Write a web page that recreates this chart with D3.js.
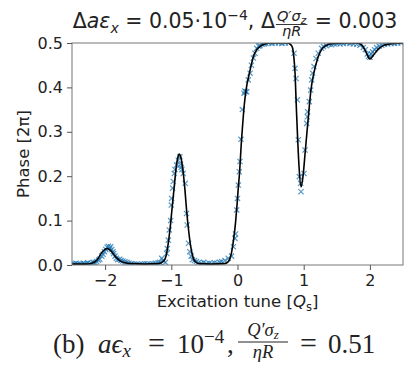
<!DOCTYPE html>
<html>
<head>
<meta charset="utf-8">
<script src="https://cdn.jsdelivr.net/npm/d3@7"></script>
<style>
  body { margin: 0; background: #fff; }
  svg { display: block; }
</style>
</head>
<body>
<svg id="chart" width="404" height="365"></svg>
<script>
// Fitted phase response (black curve)
const fitX = [-2.5, -2.3, -2.2, -2.12, -2.05, -1.97, -1.92, -1.85, -1.78, -1.7, -1.6, -1.4, -1.2, -1.12, -1.08,
  -1.05, -1.02, -0.99, -0.96, -0.93, -0.9, -0.88, -0.86, -0.83, -0.8, -0.77, -0.74, -0.71, -0.68, -0.64, -0.58,
  -0.4, -0.2, -0.16, -0.12, -0.09, -0.06, -0.03, -0.01, 0.01, 0.03, 0.06, 0.08, 0.1, 0.13, 0.18, 0.24, 0.29,
  0.34, 0.4, 0.5, 0.75, 0.8, 0.83, 0.85, 0.87, 0.89, 0.91, 0.93, 0.96, 0.99, 1.02, 1.05, 1.08, 1.11, 1.15, 1.2,
  1.25, 1.32, 1.45, 1.6, 1.8, 1.88, 1.94, 2.0, 2.05, 2.12, 2.2, 2.3, 2.5];
const fitY = [0.002, 0.002, 0.004, 0.012, 0.028, 0.037, 0.033, 0.02, 0.01, 0.005, 0.003, 0.002, 0.003, 0.008, 0.02,
  0.045, 0.08, 0.125, 0.17, 0.215, 0.243, 0.25, 0.245, 0.22, 0.18, 0.125, 0.08, 0.045, 0.022, 0.008, 0.003,
  0.002, 0.003, 0.005, 0.012, 0.028, 0.056, 0.095, 0.13, 0.17, 0.206, 0.28, 0.32, 0.357, 0.395, 0.432, 0.469, 0.485,
  0.492, 0.497, 0.5, 0.5, 0.497, 0.49, 0.47, 0.43, 0.35, 0.28, 0.22, 0.176, 0.2, 0.25, 0.3, 0.35, 0.395, 0.43, 0.46,
  0.48, 0.493, 0.499, 0.5, 0.5, 0.495, 0.48, 0.464, 0.472, 0.485, 0.494, 0.498, 0.5];

// Measured phase (blue crosses)
const measX = [-2.49, -2.46, -2.44, -2.41, -2.38, -2.36, -2.33, -2.31, -2.28, -2.26, -2.23, -2.21, -2.18, -2.15,
  -2.13, -2.1, -2.08, -2.05, -2.03, -2.01, -1.99, -1.97, -1.95, -1.93, -1.915, -1.9, -1.88, -1.87, -1.85, -1.83,
  -1.81, -1.78, -1.76, -1.73, -1.7, -1.67, -1.64, -1.6, -1.56, -1.52, -1.48, -1.44, -1.4, -1.36, -1.32, -1.28,
  -1.24, -1.2, -1.17, -1.145, -1.12, -1.09, -1.07, -1.06, -1.045, -1.03, -1.01, -1.0, -0.995, -0.98, -0.97, -0.955,
  -0.945, -0.92, -0.895, -0.87, -0.86, -0.85, -0.84, -0.82, -0.79, -0.77, -0.76, -0.74, -0.72, -0.7, -0.68, -0.65,
  -0.62, -0.59, -0.55, -0.51, -0.47, -0.43, -0.39, -0.35, -0.31, -0.27, -0.24, -0.19, -0.14, -0.09, -0.063, -0.038,
  -0.03, -0.012, 0.0, 0.012, 0.027, 0.038, 0.053, 0.073, 0.098, 0.11, 0.125, 0.14, 0.163, 0.19, 0.21, 0.24, 0.264,
  0.29, 0.32, 0.34, 0.37, 0.4, 0.43, 0.47, 0.52, 0.57, 0.62, 0.67, 0.72, 0.77, 0.854, 0.869, 0.884, 0.904, 0.918,
  0.934, 0.954, 0.959, 1.005, 1.02, 1.045, 1.055, 1.06, 1.085, 1.105, 1.12, 1.135, 1.155, 1.186, 1.22, 1.27, 1.3,
  1.34, 1.38, 1.42, 1.46, 1.5, 1.55, 1.6, 1.65, 1.7, 1.75, 1.8, 1.85, 1.9, 1.93, 1.96, 1.98, 2.0, 2.02, 2.04, 2.07,
  2.1, 2.14, 2.18, 2.22, 2.27, 2.32, 2.37, 2.42, 2.47];
const measY = [0.003, 0.002, 0.004, 0.002, 0.003, 0.001, 0.004, 0.002, 0.003, 0.005, 0.002, 0.004, 0.006, 0.005,
  0.008, 0.011, 0.013, 0.02, 0.024, 0.03, 0.035, 0.04, 0.042, 0.038, 0.041, 0.035, 0.03, 0.026, 0.02, 0.015,
  0.012, 0.013, 0.01, 0.009, 0.007, 0.006, 0.004, 0.003, 0.002, 0.002, 0.001, 0.002, 0.003, 0.002, 0.002, 0.003,
  0.004, 0.005, 0.006, 0.015, 0.01, 0.006, 0.026, 0.037, 0.056, 0.079, 0.1, 0.135, 0.15, 0.173, 0.188, 0.206,
  0.215, 0.225, 0.236, 0.244, 0.227, 0.22, 0.215, 0.206, 0.184, 0.116, 0.09, 0.049, 0.03, 0.02, 0.012, 0.01,
  0.008, 0.005, 0.004, 0.006, 0.003, 0.004, 0.003, 0.005, 0.004, 0.006, 0.008, 0.01, 0.015, 0.02, 0.041, 0.06,
  0.07, 0.124, 0.15, 0.18, 0.21, 0.233, 0.283, 0.35, 0.387, 0.392, 0.39, 0.39, 0.417, 0.432, 0.45, 0.466, 0.477,
  0.488, 0.493, 0.494, 0.497, 0.498, 0.499, 0.5, 0.499, 0.5, 0.5, 0.499, 0.5, 0.5, 0.477, 0.443, 0.42, 0.372, 0.282,
  0.199, 0.184, 0.165, 0.206, 0.259, 0.319, 0.334, 0.345, 0.368, 0.394, 0.417, 0.432, 0.447, 0.465, 0.477, 0.488, 0.492,
  0.494, 0.497, 0.496, 0.498, 0.499, 0.498, 0.499, 0.5, 0.499, 0.498, 0.497, 0.495, 0.49, 0.485, 0.475, 0.47, 0.468,
  0.475, 0.48, 0.485, 0.49, 0.493, 0.495, 0.497, 0.498, 0.499, 0.499, 0.5, 0.5];

const xTicks = [-2, -1, 0, 1, 2];
const yTicks = [0.0, 0.1, 0.2, 0.3, 0.4, 0.5];
const xDomain = [-2.5, 2.5];
const yDomain = [0, 0.5];

const svg = d3.select("#chart");
const plot = { left: 72, right: 403, top: 43, bottom: 265 };
const sans = "'DejaVu Sans', sans-serif";
const serif = "'Liberation Serif', 'DejaVu Serif', serif";
const ink = "#222";

const x = d3.scaleLinear().domain(xDomain).range([plot.left, plot.right]);
const y = d3.scaleLinear().domain(yDomain).range([plot.bottom, plot.top]);

svg.append("defs").append("clipPath").attr("id", "plotClip")
  .append("rect").attr("x", plot.left).attr("y", plot.top)
  .attr("width", plot.right - plot.left).attr("height", plot.bottom - plot.top);

// crosses
const s = 2.6;
svg.append("g").attr("clip-path", "url(#plotClip)")
  .selectAll("path").data(d3.range(measX.length)).join("path")
  .attr("d", i => {
    const cx = x(measX[i]), cy = y(measY[i]);
    return `M${cx - s},${cy - s}L${cx + s},${cy + s}M${cx - s},${cy + s}L${cx + s},${cy - s}`;
  })
  .attr("stroke", "#1f77b4").attr("stroke-opacity", 0.75).attr("stroke-width", 1.2).attr("fill", "none");

// fitted curve
const line = d3.line().x(i => x(fitX[i])).y(i => y(fitY[i])).curve(d3.curveMonotoneX);
svg.append("path").attr("clip-path", "url(#plotClip)")
  .attr("d", line(d3.range(fitX.length)))
  .attr("fill", "none").attr("stroke", "#000").attr("stroke-width", 1.6);

// frame
svg.append("rect").attr("x", plot.left).attr("y", plot.top)
  .attr("width", plot.right - plot.left).attr("height", plot.bottom - plot.top)
  .attr("fill", "none").attr("stroke", "#777").attr("stroke-width", 1);

// axes
const xAxis = svg.append("g").attr("transform", `translate(0,${plot.bottom})`)
  .call(d3.axisBottom(x).tickValues(xTicks).tickFormat(d3.format("d")).tickSize(5).tickPadding(5));
const yAxis = svg.append("g").attr("transform", `translate(${plot.left},0)`)
  .call(d3.axisLeft(y).tickValues(yTicks).tickFormat(d3.format(".1f")).tickSize(5).tickPadding(4));
[xAxis, yAxis].forEach(a => {
  a.select(".domain").remove();
  a.selectAll(".tick line").attr("stroke", "#555");
  a.selectAll(".tick text").attr("font-family", sans).attr("font-size", 16).attr("fill", ink);
});

// y axis title
svg.append("text").attr("transform", `translate(29,${(plot.top + plot.bottom) / 2}) rotate(-90)`)
  .attr("text-anchor", "middle").attr("font-family", sans).attr("font-size", 16.5).attr("fill", ink)
  .text("Phase [2π]");

// inline math-like text: pieces laid out left to right (p.x pins a piece, p.mid centres it there)
function layout(g, pieces, family) {
  let cx = 0;
  pieces.forEach(p => {
    if (p.x !== undefined) cx = p.x;
    if (p.frac) {
      const fg = g.append("g");
      const ng = fg.append("g"), dg = fg.append("g");
      const nw = layout(ng, p.frac[0], family);
      const dw = layout(dg, p.frac[1], family);
      const w = p.w || Math.max(nw, dw) + 2;
      ng.attr("transform", `translate(${cx + (w - nw) / 2},${p.numY})`);
      dg.attr("transform", `translate(${cx + (w - dw) / 2},${p.denY})`);
      fg.append("line").attr("x1", cx).attr("x2", cx + w).attr("y1", p.barY).attr("y2", p.barY)
        .attr("stroke", ink).attr("stroke-width", p.barW || 0.9);
      cx += w + (p.gap || 0);
      return;
    }
    const t = g.append("text").attr("x", cx).attr("y", p.dy || 0)
      .attr("font-family", family).attr("font-size", p.size)
      .attr("font-style", p.it ? "italic" : "normal").attr("fill", ink)
      .style("white-space", "pre").text(p.t);
    const w = t.node().getComputedTextLength();
    if (p.mid !== undefined) { t.attr("x", p.mid - w / 2); cx = p.mid + w / 2; }
    else cx += w + (p.gap || 0);
  });
  return cx;
}

// x axis title
const xl = svg.append("g");
const xlw = layout(xl, [
  { t: "Excitation tune [", size: 16.5 },
  { t: "Q", size: 16.5, it: true },
  { t: "s", size: 11.5, dy: 3.5 },
  { t: "]", size: 16.5 }
], sans);
xl.attr("transform", `translate(${(plot.left + plot.right) / 2 - xlw / 2},307)`);

// chart title
const tt = svg.append("g");
const ttw = layout(tt, [
  { t: "Δ", size: 20.5 },
  { t: "aε", size: 20.5, it: true },
  { t: "x", size: 14, it: true, dy: 4.5 },
  { t: " = 0.05·10", size: 20.5 },
  { t: "−4", size: 14, dy: -8 },
  { t: ", Δ", size: 20.5, gap: 1 },
  { frac: [
      [{ t: "Q′σ", size: 14.5, it: true }, { t: "z", size: 10.5, it: true, dy: 2.5 }],
      [{ t: "ηR", size: 14.5, it: true }]
    ], numY: -7, denY: 7.5, barY: -3.5, gap: 1 },
  { t: " = 0.003", size: 20.5 }
], sans);
tt.attr("transform", `translate(${235 - ttw / 2},28)`);

// caption
const cp = svg.append("g");
layout(cp, [
  { t: "(b)", size: 27, x: 53 },
  { t: "aϵ", size: 27, it: true, x: 98 },
  { t: "x", size: 19, it: true, dy: 4 },
  { t: "=", size: 30, mid: 156.5 },
  { t: "10", size: 27, x: 177 },
  { t: "−4", size: 19, dy: -10.5 },
  { t: ",", size: 27, x: 227 },
  { frac: [
      [{ t: "Q′σ", size: 18.5, it: true }, { t: "z", size: 13, it: true, dy: 3 }],
      [{ t: "ηR", size: 18.5, it: true }]
    ], x: 238, w: 50, numY: -17.5, denY: 4.5, barY: -11, barW: 1 },
  { t: "=", size: 30, mid: 308.5 },
  { t: "0.51", size: 27, x: 328 }
], serif);
cp.attr("transform", "translate(0,353)");
</script>
</body>
</html>
